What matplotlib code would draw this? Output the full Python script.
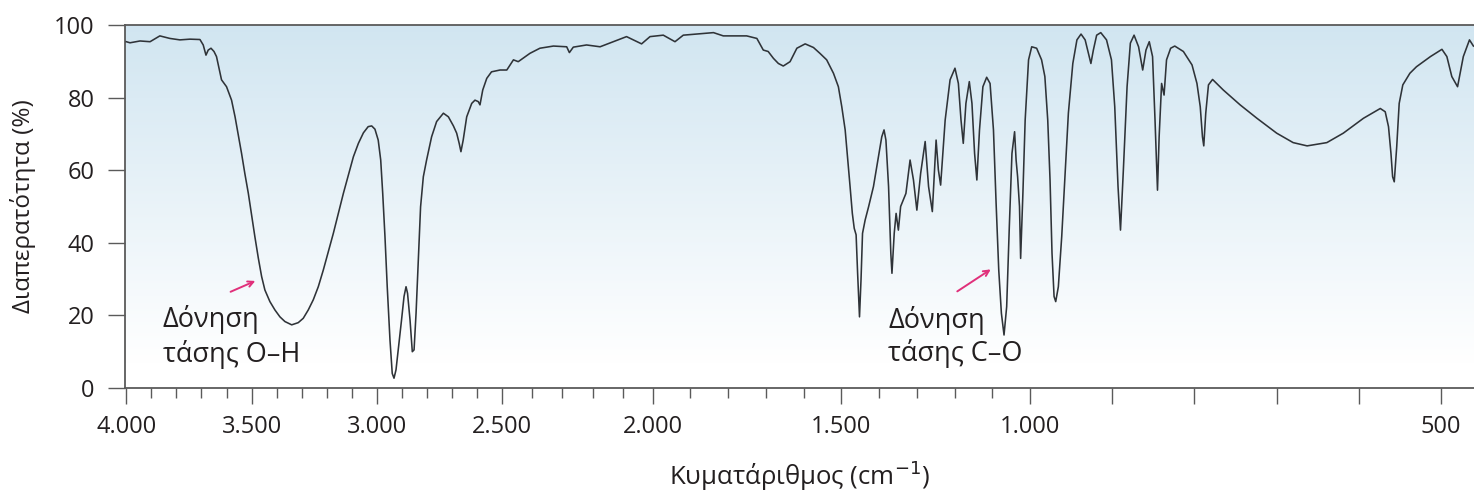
import numpy as np
import matplotlib
matplotlib.use("Agg")
import matplotlib.pyplot as plt
from matplotlib.ticker import FixedLocator, FixedFormatter

plt.rcParams['font.family'] = ['Open Sans', 'DejaVu Sans']

# IR spectrum: wavenumber (cm^-1) and transmittance (%)
wavenumber = [
    4000, 3985, 3945, 3905, 3866, 3826, 3786, 3746, 3706, 3693, 3682, 3673,
    3662, 3650, 3640, 3620, 3600, 3580, 3566, 3553, 3540, 3527, 3513, 3500,
    3487, 3473, 3460, 3447, 3427, 3407, 3387, 3367, 3340, 3314, 3294, 3274,
    3254, 3234, 3214, 3194, 3174, 3154, 3134, 3114, 3094, 3074, 3054, 3035,
    3021, 3008, 2995, 2985, 2977, 2968, 2959, 2948, 2939, 2932, 2924, 2915,
    2902, 2892, 2884, 2878, 2868, 2859, 2852, 2844, 2835, 2826, 2815, 2802,
    2782, 2762, 2735, 2715, 2695, 2682, 2672, 2665, 2656, 2642, 2622, 2609,
    2596, 2589, 2578, 2562, 2543, 2509, 2485, 2463, 2447, 2408, 2375, 2330,
    2286, 2277, 2264, 2220, 2175, 2131, 2087, 2037, 2009, 1972, 1941, 1919,
    1884, 1839, 1813, 1751, 1724, 1707, 1694, 1680, 1667, 1654, 1636, 1618,
    1596, 1574, 1557, 1539, 1521, 1508, 1499, 1490, 1483, 1477, 1471, 1466,
    1461, 1457, 1452, 1448, 1444, 1437, 1428, 1415, 1402, 1393, 1387, 1382,
    1375, 1369, 1366, 1360, 1355, 1349, 1343, 1336, 1329, 1318, 1309, 1300,
    1290, 1278, 1269, 1259, 1249, 1243, 1237, 1225, 1212, 1199, 1190, 1183,
    1177, 1170, 1161, 1154, 1147, 1141, 1134, 1125, 1115, 1106, 1097, 1090,
    1083, 1076, 1069, 1062, 1055, 1048, 1041, 1037, 1033, 1028, 1025, 1019,
    1013, 1004, 998, 992, 986, 982, 978.5, 975.7, 973.3, 970.8, 968.8, 965.6,
    961.5, 957.4, 953.4, 948, 943, 938, 933, 929, 926, 923, 919, 914,
    907, 901, 897, 893, 890, 886.5, 882, 878, 873.5, 868, 863, 859,
    855, 851, 848, 845, 843, 840, 837, 834, 829, 824, 813.5, 803,
    797, 793, 790.3, 788.7, 786.3, 783, 778, 765, 744.5, 724, 700, 680,
    663, 639, 619, 594.5, 574, 568, 564, 561, 559, 557, 554, 551,
    546.6, 538, 530, 513, 499, 493, 487, 480, 473, 465.5, 460.7,
]
transmittance = [
    95.4, 95.1, 95.6, 95.4, 97.0, 96.3, 95.9, 96.1, 96.0, 94.5, 91.7, 93.1,
    93.6, 92.7, 91.3, 84.9, 83.0, 79.3, 74.7, 69.7, 64.6, 59.1, 53.6, 47.7,
    41.7, 35.7, 30.7, 27.0, 23.8, 21.5, 19.6, 18.3, 17.4, 18.0, 19.2, 21.5,
    24.3, 27.9, 32.5, 37.6, 42.6, 48.1, 53.6, 58.7, 63.7, 67.4, 70.3, 72.0,
    72.2, 71.3, 68.3, 62.8, 53.6, 41.7, 27.9, 13.2, 4.0, 2.7, 5.0, 10.5,
    18.7, 25.2, 27.9, 26.1, 18.7, 10.0, 10.5, 20.6, 35.3, 49.9, 58.2, 62.8,
    69.2, 73.4, 75.7, 74.7, 72.2, 70.2, 67.4, 65.1, 68.3, 74.7, 78.4, 79.3,
    78.9, 78.0, 82.1, 85.3, 87.1, 87.6, 87.6, 90.4, 89.9, 92.2, 93.6, 94.2,
    94.0, 92.4, 93.9, 94.5, 94.0, 95.4, 96.8, 94.8, 96.8, 97.2, 95.4, 97.2,
    97.5, 97.9, 97.0, 97.0, 96.3, 93.1, 92.7, 90.8, 89.4, 88.7, 89.9, 93.6,
    94.8, 93.8, 92.2, 90.4, 86.7, 83.0, 77.5, 71.1, 62.8, 55.5, 48.1, 44.0,
    42.2, 31.6, 19.6, 29.8, 42.6, 46.3, 49.9, 55.5, 63.7, 69.2, 71.1, 68.3,
    55.5, 37.1, 31.6, 42.6, 48.1, 43.5, 50.0, 51.8, 53.6, 62.8, 57.3, 49.0,
    59.1, 67.9, 55.5, 48.6, 68.3, 60.1, 55.9, 73.8, 84.9, 88.1, 83.9, 73.8,
    67.4, 78.4, 84.4, 78.4, 64.6, 57.3, 71.1, 83.0, 85.6, 83.9, 71.1, 50.9,
    32.5, 20.6, 14.6, 22.4, 44.4, 64.6, 70.6, 62.8, 58.2, 50.0, 35.7, 53.6,
    73.8, 90.4, 94.0, 93.6, 90.4, 85.8, 73.8, 57.3, 37.1, 25.2, 23.8, 27.9,
    41.7, 59.1, 75.7, 89.4, 95.9, 97.5, 95.9, 92.2, 89.4, 93.1, 97.2, 97.9,
    95.9, 90.4, 77.5, 55.5, 43.5, 60.1, 83.0, 95.0, 97.2, 94.0, 87.6, 93.1,
    95.4, 91.3, 73.8, 54.5, 69.2, 83.9, 80.7, 90.4, 93.6, 94.2, 92.7, 89.0,
    83.9, 77.5, 69.2, 66.7, 75.7, 83.5, 85.0, 82.1, 78.0, 74.3, 70.2, 67.6,
    66.7, 67.6, 70.2, 74.3, 77.0, 76.1, 72.0, 64.6, 58.2, 56.8, 66.5, 78.4,
    83.5, 86.7, 88.5, 91.3, 93.3, 91.3, 85.8, 83.0, 91.3, 95.9, 94.2,
]

major_ticks = [4000, 3500, 3000, 2500, 2000, 1500, 1000, 900, 800, 700, 600, 500]
major_labels = ["4.000", "3.500", "3.000", "2.500", "2.000", "1.500", "1.000",
                "", "", "", "", "500"]
y_ticks = [0, 20, 40, 60, 80, 100]
y_labels = ["0", "20", "40", "60", "80", "100"]

# piecewise-linear wavenumber axis (the chart paper changes scale at 2500, 2000 and 1000)
SCALE_WN = np.array([500.0, 1000.0, 2000.0, 2500.0, 4000.0])
SCALE_POS = np.array([0.0, 411.0, 788.3, 938.7, 1314.7])
LOW_SLOPE = (SCALE_POS[1] - SCALE_POS[0]) / (SCALE_WN[1] - SCALE_WN[0])
HIGH_SLOPE = (SCALE_POS[-1] - SCALE_POS[-2]) / (SCALE_WN[-1] - SCALE_WN[-2])


def wn_forward(x):
    x = np.asarray(x, dtype=float)
    y = np.interp(x, SCALE_WN, SCALE_POS)
    y = np.where(x < SCALE_WN[0], SCALE_POS[0] + (x - SCALE_WN[0]) * LOW_SLOPE, y)
    y = np.where(x > SCALE_WN[-1], SCALE_POS[-1] + (x - SCALE_WN[-1]) * HIGH_SLOPE, y)
    return y


def wn_inverse(y):
    y = np.asarray(y, dtype=float)
    x = np.interp(y, SCALE_POS, SCALE_WN)
    x = np.where(y < SCALE_POS[0], SCALE_WN[0] + (y - SCALE_POS[0]) / LOW_SLOPE, x)
    x = np.where(y > SCALE_POS[-1], SCALE_WN[-1] + (y - SCALE_POS[-1]) / HIGH_SLOPE, x)
    return x


W, H = 1474, 495
fig = plt.figure(figsize=(W / 100, H / 100), dpi=100)
ax = fig.add_axes([125 / W, (H - 388) / H, (W - 125) / W, (388 - 25) / H])

ax.set_xscale('function', functions=(wn_forward, wn_inverse))
ax.set_xlim(4005, 460)
ax.set_ylim(0, 100)

# soft blue-to-white backdrop inside the plot frame (row 0 = top)
grad = np.linspace(0, 1, 256)[:, None]
top = np.array([0.82, 0.90, 0.945])
bot = np.array([1.0, 1.0, 1.0])
mix = np.clip(grad / 0.93, 0, 1)
img = top[None, None, :] * (1 - mix[..., None]) + bot[None, None, :] * mix[..., None]
ax.imshow(img, extent=[0, 1, 0, 1], origin='upper', transform=ax.transAxes,
          aspect='auto', zorder=0, interpolation='bilinear')

ax.plot(wavenumber, transmittance, color='#2f3338', lw=1.15, zorder=3,
        solid_joinstyle='round')

spine_col = '#5a5a5a'
for side in ('left', 'bottom', 'top'):
    ax.spines[side].set_color(spine_col)
    ax.spines[side].set_linewidth(1.3)
ax.spines['right'].set_visible(False)

ax.xaxis.set_major_locator(FixedLocator(major_ticks))
ax.xaxis.set_major_formatter(FixedFormatter(major_labels))
minor = [w for w in range(3900, 1000, -100) if w not in major_ticks]
ax.xaxis.set_minor_locator(FixedLocator(minor))
ax.yaxis.set_major_locator(FixedLocator(y_ticks))
ax.yaxis.set_major_formatter(FixedFormatter(y_labels))

txt_col = '#231f20'
ax.tick_params(axis='x', which='major', direction='out', length=11.5, width=1.0,
               color=spine_col, pad=8, labelsize=17, labelcolor=txt_col)
ax.tick_params(axis='x', which='minor', direction='out', length=7.2, width=1.0,
               color=spine_col)
ax.tick_params(axis='y', which='major', direction='out', length=12, width=1.0,
               color=spine_col, pad=10, labelsize=17, labelcolor=txt_col)

ax.set_xlabel('Κυματάριθμος (cm$^{-1}$)', fontsize=18.5, color=txt_col, labelpad=14)
ax.set_ylabel('Διαπερατότητα (%)', fontsize=17.5, color=txt_col, labelpad=13)

arrow_col = '#e0307a'
ax.annotate('', xy=(3475, 29.8), xytext=(3594, 26.2),
            arrowprops=dict(arrowstyle='->', color=arrow_col, lw=1.4), zorder=4)
ax.annotate('', xy=(1098, 33.1), xytext=(1199, 26.2),
            arrowprops=dict(arrowstyle='->', color=arrow_col, lw=1.4), zorder=4)

ann_size = 19.5
ax.text(3854, 16.7, 'Δόνηση', fontsize=ann_size, color=txt_col,
        ha='left', va='baseline', zorder=4)
ax.text(3854, 7.3, 'τάσης O–H', fontsize=ann_size, color=txt_col,
        ha='left', va='baseline', zorder=4)
ax.text(1376, 16.6, 'Δόνηση', fontsize=ann_size, color=txt_col,
        ha='left', va='baseline', zorder=4)
ax.text(1376, 7.5, 'τάσης C–O', fontsize=ann_size, color=txt_col,
        ha='left', va='baseline', zorder=4)

fig.savefig('out.png', dpi=100)
